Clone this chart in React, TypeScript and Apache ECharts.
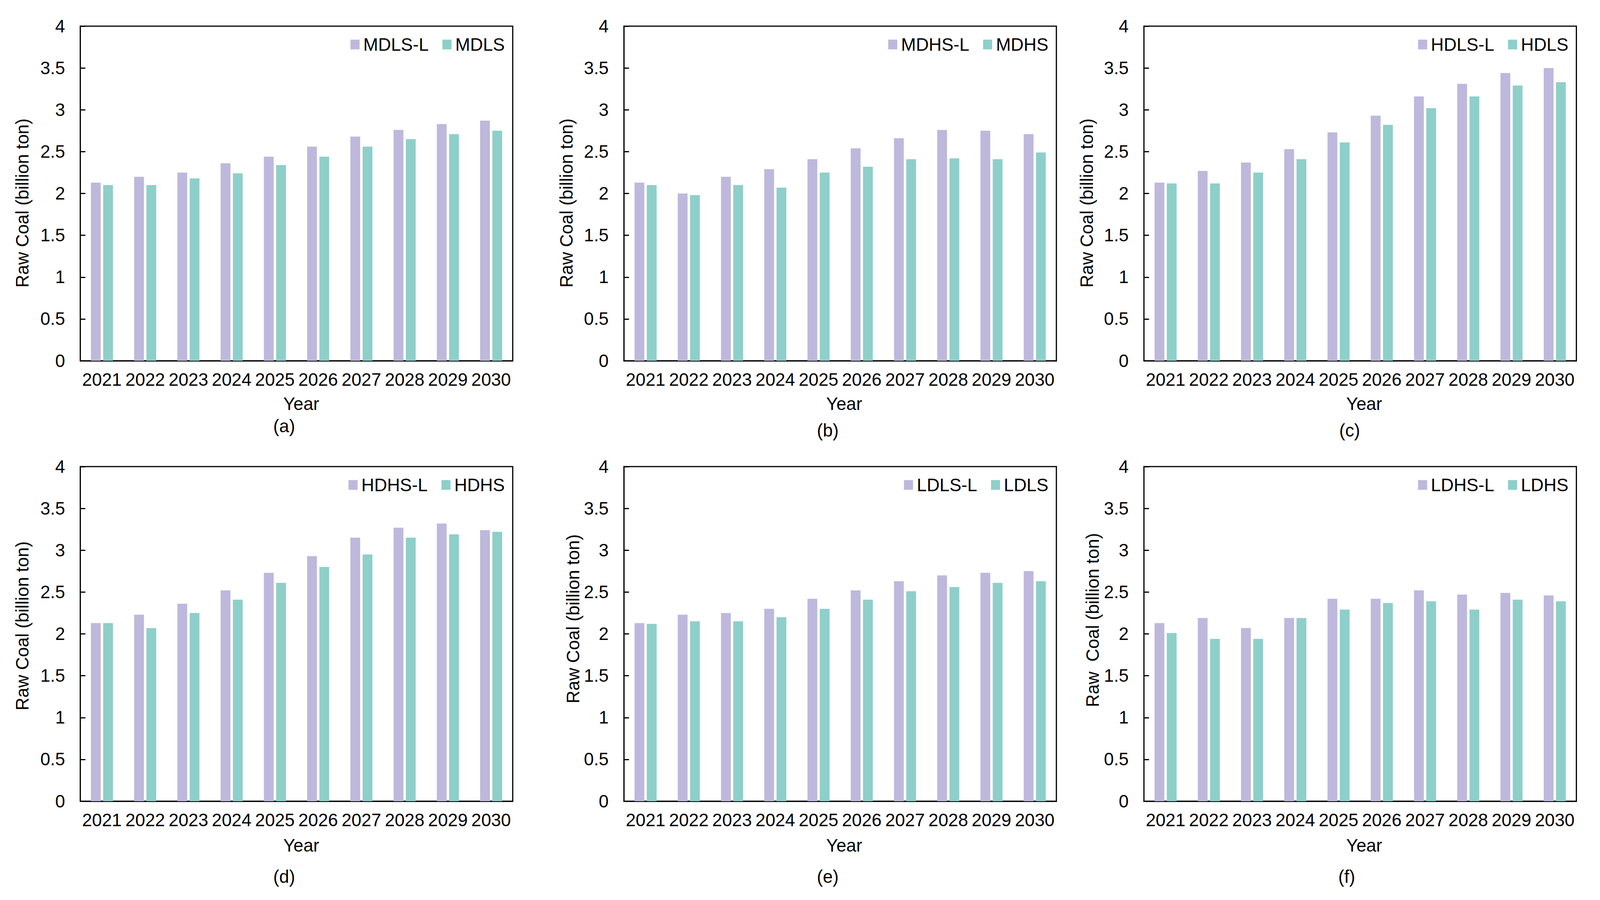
import React, { useEffect, useRef } from "react";
import * as echarts from "echarts";

const years = ["2021", "2022", "2023", "2024", "2025", "2026", "2027", "2028", "2029", "2030"];
const yTicks = [0, 0.5, 1, 1.5, 2, 2.5, 3, 3.5, 4];

const mdlsL = [2.13, 2.2, 2.25, 2.36, 2.44, 2.56, 2.68, 2.76, 2.83, 2.87];
const mdls = [2.1, 2.1, 2.18, 2.24, 2.34, 2.44, 2.56, 2.65, 2.71, 2.75];
const mdhsL = [2.13, 2.0, 2.2, 2.29, 2.41, 2.54, 2.66, 2.76, 2.75, 2.71];
const mdhs = [2.1, 1.98, 2.1, 2.07, 2.25, 2.32, 2.41, 2.42, 2.41, 2.49];
const hdlsL = [2.13, 2.27, 2.37, 2.53, 2.73, 2.93, 3.16, 3.31, 3.44, 3.5];
const hdls = [2.12, 2.12, 2.25, 2.41, 2.61, 2.82, 3.02, 3.16, 3.29, 3.33];
const hdhsL = [2.13, 2.23, 2.36, 2.52, 2.73, 2.93, 3.15, 3.27, 3.32, 3.24];
const hdhs = [2.13, 2.07, 2.25, 2.41, 2.61, 2.8, 2.95, 3.15, 3.19, 3.22];
const ldlsL = [2.13, 2.23, 2.25, 2.3, 2.42, 2.52, 2.63, 2.7, 2.73, 2.75];
const ldls = [2.12, 2.15, 2.15, 2.2, 2.3, 2.41, 2.51, 2.56, 2.61, 2.63];
const ldhsL = [2.13, 2.19, 2.07, 2.19, 2.42, 2.42, 2.52, 2.47, 2.49, 2.46];
const ldhs = [2.01, 1.94, 1.94, 2.19, 2.29, 2.37, 2.39, 2.29, 2.41, 2.39];

const panelNames = [
  ["MDLS-L", "MDLS"],
  ["MDHS-L", "MDHS"],
  ["HDLS-L", "HDLS"],
  ["HDHS-L", "HDHS"],
  ["LDLS-L", "LDLS"],
  ["LDHS-L", "LDHS"],
];
const panelData = [
  [mdlsL, mdls],
  [mdhsL, mdhs],
  [hdlsL, hdls],
  [hdhsL, hdhs],
  [ldlsL, ldls],
  [ldhsL, ldhs],
];
const panelLetters = ["(a)", "(b)", "(c)", "(d)", "(e)", "(f)"];
const yTitles = [
  "Raw Coal (billion ton)",
  "Raw Coal (billion ton)",
  "Raw Coal (billion ton)",
  "Raw Coal (billion ton)",
  "Raw Coal (billion ton)",
  "Raw  Coal (billion ton)",
];

const REF_W = 4403;
const REF_H = 2305;
const FONT = '"Liberation Sans", Arial, sans-serif';
const PURPLE = "#BEB8DC";
const TEAL = "#8ECFC9";

// layout in reference pixels
const colLeft = [221, 1717, 3148];
const rowTop = [67, 1195];
const gridW = 1190;
const gridH = 857;
const yTitlePos = [
  [62, 520],
  [1559, 520],
  [2991, 520],
  [62, 1603],
  [1577, 1585],
  [3007, 1588],
];
const yearPos = [
  [829, 1034],
  [2323, 1034],
  [3754, 1034],
  [829, 2165],
  [2323, 2165],
  [3754, 2165],
];
const letterPos = [
  [782, 1091],
  [2278, 1102],
  [3714, 1102],
  [782, 2245],
  [2278, 2245],
  [3706, 2245],
];

function buildOption(W: number, H: number) {
  const sx = W / REF_W;
  const sy = H / REF_H;
  const fs = 49 * Math.min(sx, sy);
  const X = (v: number) => v * sx;
  const Y = (v: number) => v * sy;
  const grids: any[] = [];
  const xAxes: any[] = [];
  const yAxes: any[] = [];
  const series: any[] = [];
  const legends: any[] = [];
  const graphics: any[] = [];

  for (let i = 0; i < 6; i++) {
    const left = colLeft[i % 3];
    const top = rowTop[Math.floor(i / 3)];
    grids.push({
      left: X(left),
      top: Y(top),
      width: X(gridW),
      height: Y(gridH),
      show: true,
      borderColor: "#000",
      borderWidth: 3,
      backgroundColor: "transparent",
      containLabel: false,
    });
    xAxes.push({
      type: "category",
      gridIndex: i,
      data: years,
      axisLine: { show: true, lineStyle: { color: "#000", width: 3 } },
      axisTick: { show: false },
      axisLabel: { interval: 0, color: "#000", fontSize: fs, fontFamily: FONT, margin: Y(25) },
      splitLine: { show: false },
    });
    yAxes.push({
      type: "value",
      gridIndex: i,
      min: yTicks[0],
      max: yTicks[yTicks.length - 1],
      interval: yTicks[1] - yTicks[0],
      axisLine: { show: true, lineStyle: { color: "#000", width: 3 } },
      axisTick: { show: true, inside: true, length: X(14), lineStyle: { color: "#000", width: 3 } },
      axisLabel: { color: "#000", fontSize: fs, fontFamily: FONT, margin: X(42) },
      splitLine: { show: false },
    });
    const [n1, n2] = panelNames[i];
    const [d1, d2] = panelData[i];
    series.push({
      type: "bar", name: n1, xAxisIndex: i, yAxisIndex: i, data: d1,
      barWidth: X(27), barGap: "25%", itemStyle: { color: PURPLE },
    });
    series.push({
      type: "bar", name: n2, xAxisIndex: i, yAxisIndex: i, data: d2,
      barWidth: X(27), barGap: "25%", itemStyle: { color: TEAL },
    });
    legends.push({
      data: [n1, n2],
      right: W - X(left + gridW) + X(22),
      top: Y(top + 24),
      orient: "horizontal",
      icon: "rect",
      itemWidth: X(25),
      itemHeight: Y(25),
      itemGap: X(38),
      padding: 0,
      selectedMode: false,
      textStyle: { color: "#000", fontSize: fs, fontFamily: FONT, padding: [0, 0, 0, X(5)] },
    });
    const font = `${fs}px ${FONT}`;
    graphics.push({
      type: "text", x: X(yTitlePos[i][0]), y: Y(yTitlePos[i][1]), rotation: Math.PI / 2,
      style: { text: yTitles[i], fill: "#000", font, align: "center", verticalAlign: "middle" },
    });
    graphics.push({
      type: "text", x: X(yearPos[i][0]), y: Y(yearPos[i][1]),
      style: { text: "Year", fill: "#000", font, align: "center", verticalAlign: "middle" },
    });
    graphics.push({
      type: "text", x: X(letterPos[i][0]), y: Y(letterPos[i][1]),
      style: { text: panelLetters[i], fill: "#000", font, align: "center", verticalAlign: "middle" },
    });
  }

  return {
    animation: false,
    backgroundColor: "#fff",
    grid: grids,
    xAxis: xAxes,
    yAxis: yAxes,
    series,
    legend: legends,
    graphic: graphics,
  };
}

export default function App() {
  const ref = useRef<HTMLDivElement>(null);
  const W = Math.min(REF_W, document.documentElement.clientWidth || window.innerWidth || REF_W);
  const H = REF_H;
  useEffect(() => {
    document.body.style.margin = "0";
    if (!ref.current) return;
    const chart = echarts.init(ref.current, null, { renderer: "svg", width: W, height: H });
    chart.setOption(buildOption(W, H));
    return () => {
      chart.dispose();
    };
  }, []);
  return <div ref={ref} style={{ width: W, height: H, background: "#fff" }} />;
}
